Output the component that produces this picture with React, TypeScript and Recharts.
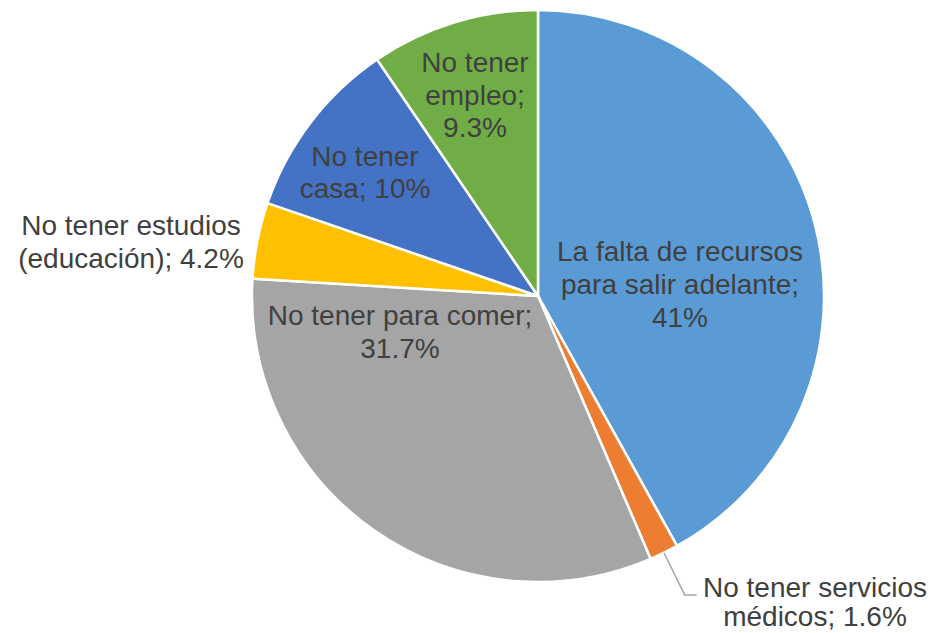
import { PieChart, Pie, Cell } from 'recharts';

const categories = [
  'La falta de recursos para salir adelante',
  'No tener servicios médicos',
  'No tener para comer',
  'No tener estudios (educación)',
  'No tener casa',
  'No tener empleo',
];
const values = [41, 1.6, 31.7, 4.2, 10, 9.3];
// how each label is broken into lines (last part gets "; value%")
const labelLines = [
  ['La falta de recursos', 'para salir adelante;'],
  ['No tener servicios', 'médicos;'],
  ['No tener para comer;'],
  ['No tener estudios', '(educación);'],
  ['No tener', 'casa;'],
  ['No tener', 'empleo;'],
];
// value goes on its own line for these
const valueOwnLine = [true, false, true, false, false, true];

const COLORS = ['#5B9BD5', '#ED7D31', '#A5A5A5', '#FFC000', '#4472C4', '#70AD47'];
// label block anchor relative to pie centre: [dx, first baseline dy, line height]
const LABEL_POS: [number, number, number][] = [
  [142, -35, 33],
  [277, 301, 29],
  [-138, 29, 33],
  [-407, -61, 33],
  [-173, -130, 32],
  [-63, -224, 32.5],
];

const data = categories.map((name, i) => ({ name, value: values[i] }));
const RADIAN = Math.PI / 180;

function renderLabel(props: any) {
  const { cx, cy, midAngle, outerRadius, index } = props;
  const [dx, dy, lh] = LABEL_POS[index];
  const pct = `${values[index]}%`;
  const lines = [...labelLines[index]];
  if (valueOwnLine[index]) lines.push(pct);
  else lines[lines.length - 1] = `${lines[lines.length - 1]} ${pct}`;

  let leader = null;
  if (index === 1) {
    const cos = Math.cos(-midAngle * RADIAN);
    const sin = Math.sin(-midAngle * RADIAN);
    const sx = cx + outerRadius * cos;
    const sy = cy + outerRadius * sin;
    const ex = cx + (outerRadius + 47) * cos;
    const ey = cy + (outerRadius + 47) * sin;
    leader = (
      <polyline
        points={`${sx},${sy} ${ex},${ey} ${ex + 12},${ey}`}
        fill="none"
        stroke="#A6A6A6"
        strokeWidth={1.5}
      />
    );
  }

  return (
    <g key={`lbl-${index}`}>
      {leader}
      <text
        x={cx + dx}
        y={cy + dy}
        fill="#404040"
        textAnchor="middle"
        fontFamily="'Liberation Sans', Arial, sans-serif"
        fontSize={28}
      >
        {lines.map((l, i) => (
          <tspan key={i} x={cx + dx} y={cy + dy + i * lh}>
            {l}
          </tspan>
        ))}
      </text>
    </g>
  );
}

export default function App() {
  return (
    <div style={{ position: 'absolute', left: 0, top: 0, width: 936, height: 633, background: '#fff' }}>
      <PieChart width={936} height={633} margin={{ top: 0, right: 0, bottom: 0, left: 0 }}>
        <Pie
          data={data}
          dataKey="value"
          nameKey="name"
          cx={538}
          cy={296}
          outerRadius={286}
          startAngle={90}
          endAngle={-270}
          stroke="#fff"
          strokeWidth={2.5}
          labelLine={false}
          label={renderLabel}
          isAnimationActive={false}
        >
          {data.map((d, i) => (
            <Cell key={d.name} fill={COLORS[i]} />
          ))}
        </Pie>
      </PieChart>
    </div>
  );
}
